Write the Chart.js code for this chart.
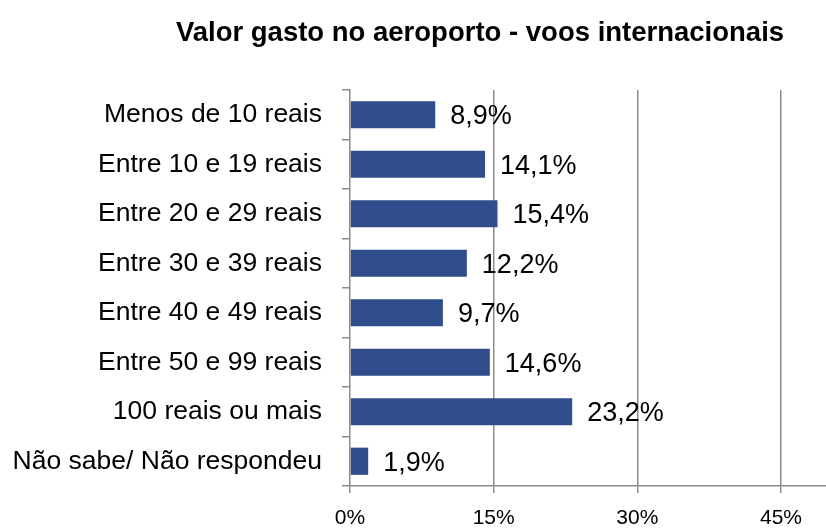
<!DOCTYPE html>
<html>
<head>
<meta charset="utf-8">
<script src="https://cdn.jsdelivr.net/npm/chart.js@4"></script>
<style>
  body { margin: 0; background: #fff; }
</style>
</head>
<body>
<canvas id="chart" width="826" height="529"></canvas>
<script>
const chartTitle = 'Valor gasto no aeroporto - voos internacionais';
const categories = [
  'Menos de 10 reais',
  'Entre 10 e 19 reais',
  'Entre 20 e 29 reais',
  'Entre 30 e 39 reais',
  'Entre 40 e 49 reais',
  'Entre 50 e 99 reais',
  '100 reais ou mais',
  'Não sabe/ Não respondeu',
];
const values = [8.9, 14.1, 15.4, 12.2, 9.7, 14.6, 23.2, 1.9];
const xTicks = [0, 15, 30, 45];

const fontName = '"Liberation Sans", Arial, sans-serif';
const gray = '#8c8c8c';

// title drawn by hand so it can sit off-centre like the original
const titlePlugin = {
  id: 'titleText',
  afterDraw(chart) {
    const ctx = chart.ctx;
    ctx.save();
    ctx.font = 'bold 27.5px ' + fontName;
    ctx.fillStyle = '#000';
    ctx.textAlign = 'center';
    ctx.textBaseline = 'middle';
    ctx.fillText(chartTitle, 480, 33);
    ctx.restore();
  },
};

const labelPlugin = {
  id: 'barLabels',
  afterDatasetsDraw(chart) {
    const ctx = chart.ctx;
    const meta = chart.getDatasetMeta(0);
    ctx.save();
    ctx.font = '27px ' + fontName;
    ctx.fillStyle = '#000';
    ctx.textAlign = 'left';
    ctx.textBaseline = 'middle';
    meta.data.forEach(function (bar, i) {
      ctx.fillText(values[i].toFixed(1).replace('.', ',') + '%', bar.x + 15, bar.y + 2);
    });
    ctx.restore();
  },
};

new Chart('chart', {
  type: 'bar',
  data: {
    labels: categories,
    datasets: [
      {
        data: values,
        backgroundColor: '#304d8c',
        categoryPercentage: 1,
        barPercentage: 0.55,
      },
    ],
  },
  options: {
    indexAxis: 'y',
    responsive: false,
    animation: false,
    layout: { padding: { top: 90, right: 0, bottom: 0, left: 0 } },
    plugins: {
      legend: { display: false },
      title: { display: false },
      tooltip: { enabled: false },
    },
    scales: {
      x: {
        min: 0,
        max: 49.7,
        afterBuildTicks: function (scale) {
          scale.ticks = xTicks.map(function (v) { return { value: v }; });
        },
        afterFit: function (scale) { scale.height = 43; },
        grid: {
          color: function (c) { return c.tick && c.tick.value === 0 ? 'transparent' : gray; },
          lineWidth: 1.5,
          drawTicks: true,
          tickLength: 7,
          tickColor: gray,
        },
        border: { color: gray, width: 1.5 },
        ticks: {
          color: '#000',
          font: { family: fontName, size: 21 },
          padding: 13,
          callback: function (v) { return v + '%'; },
        },
      },
      y: {
        afterFit: function (scale) { scale.width = 350; },
        grid: {
          drawOnChartArea: false,
          drawTicks: true,
          tickLength: 8,
          tickColor: gray,
          lineWidth: 1.5,
        },
        border: { color: gray, width: 1.5 },
        ticks: {
          color: '#000',
          font: { family: fontName, size: 26.5 },
          padding: 20,
        },
      },
    },
  },
  plugins: [titlePlugin, labelPlugin],
});
</script>
</body>
</html>
